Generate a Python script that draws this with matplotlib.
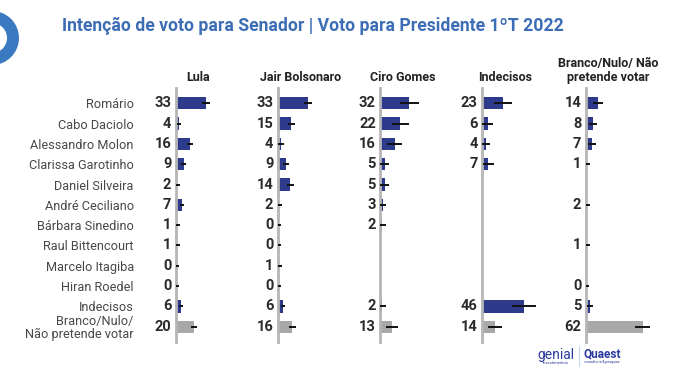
import numpy as np
import matplotlib
matplotlib.use("Agg")
import matplotlib.pyplot as plt
from matplotlib.patches import Circle

nan = np.nan

rows = ["Romário", "Cabo Daciolo", "Alessandro Molon", "Clarissa Garotinho",
        "Daniel Silveira", "André Ceciliano", "Bárbara Sinedino",
        "Raul Bittencourt", "Marcelo Itagiba", "Hiran Roedel", "Indecisos",
        "Branco/Nulo/\nNão pretende votar"]

columns = ["Lula", "Jair Bolsonaro", "Ciro Gomes", "Indecisos",
           "Branco/Nulo/ Não\npretende votar"]

lula = [33, 4, 16, 9, 2, 7, 1, 1, 0, 0, 6, 20]
bolsonaro = [33, 15, 4, 9, 14, 2, 0, 0, 1, 0, 6, 16]
ciro = [32, 22, 16, 5, 5, 3, 2, nan, nan, nan, 2, 13]
indecisos = [23, 6, 4, 7, nan, nan, nan, nan, nan, nan, 46, 14]
branco = [14, 8, 7, 1, nan, 2, nan, 1, nan, 0, 5, 62]

# margem de erro (meia largura)
err_lula = [4, 2.5, 3, 2.5, 3, 2.5, 3.5, 3.5, 4, 4, 2.5, 3.5]
err_bolsonaro = [4.5, 4, 3, 3, 4, 3, 4, 4, 3.5, 4, 2.5, 4]
err_ciro = [10, 9, 8, 5, 5, 4, 4, nan, nan, nan, 4, 7]
err_indecisos = [10, 6, 5, 6, nan, nan, nan, nan, nan, nan, 13, 8]
err_branco = [5.5, 4, 4, 4, nan, 3, nan, 3.5, nan, 4, 3.5, 8]

series = [lula, bolsonaro, ciro, indecisos, branco]
errors = [err_lula, err_bolsonaro, err_ciro, err_indecisos, err_branco]

W, H = 680, 382
fig = plt.figure(figsize=(6.8, 3.82), dpi=100)

reg = ["Roboto", "DejaVu Sans"]

blue = "#2e3a8c"
grey_bar = "#a8a8a8"
axis_x = [175.5, 277.5, 380, 482, 585.5]
top_px, bot_px = 88, 342
px_per_unit = 0.92
width_px = 100

# anel decorativo no canto superior esquerdo
ring = Circle((-8 / 100, (H - 38) / 100), 0.21,
              transform=fig.dpi_scale_trans,
              fill=False, edgecolor="#3a78c0", linewidth=8.6)
fig.patches.append(ring)

fig.text(62 / W, 1 - 26 / H,
         "Intenção de voto para Senador | Voto para Presidente 1ºT 2022",
         fontsize=12.7, fontweight="bold", color="#3d6db5", family=reg,
         va="center", ha="left")

y = np.arange(len(rows))
for k, (vals, errs) in enumerate(zip(series, errors)):
    ax = fig.add_axes([axis_x[k] / W, 1 - bot_px / H, width_px / W,
                       (bot_px - top_px) / H])
    vals = np.array(vals, dtype=float)
    errs = np.array(errs, dtype=float)
    colors = [blue] * (len(rows) - 1) + [grey_bar]
    ax.barh(y, np.nan_to_num(vals), height=0.6, color=colors, zorder=2)
    ax.errorbar(vals, y, xerr=errs, fmt="none", ecolor="#111111",
                elinewidth=1.4, capsize=0, zorder=3)
    ax.set_xlim(0, width_px / px_per_unit)
    ax.set_ylim(len(rows) - 1 + 0.75, -0.75)
    for s in ["top", "right", "bottom"]:
        ax.spines[s].set_visible(False)
    ax.spines["left"].set_color("#b5b5b5")
    ax.spines["left"].set_linewidth(2)
    ax.set_xticks([])
    ax.tick_params(axis="y", length=0)
    if k == 0:
        ax.set_yticks(y)
        ax.set_yticklabels(rows, fontsize=9.2, color="#484848", family=reg,
                           linespacing=1.0)
        ax.tick_params(axis="y", pad=30)
    else:
        ax.set_yticks([])
    for i, v in enumerate(vals):
        if np.isnan(v):
            continue
        ax.annotate(f"{v:.0f}", (0, i), xytext=(-3, 0),
                    textcoords="offset points", ha="right", va="center",
                    fontsize=10.5, fontweight="bold", color="#2a2a2a",
                    family=reg, annotation_clip=False)
    ax.text(23 / px_per_unit, 1 + 7 / (bot_px - top_px), columns[k],
            transform=ax.get_xaxis_transform(), ha="center", va="baseline",
            fontsize=9, fontweight="bold", color="#222222", family=reg,
            linespacing=1.1)

# logos
fig.text(556 / W, 1 - 355 / H, "genial", fontsize=10, color="#2b3a9e",
         family=reg, ha="center", va="center")
fig.text(556 / W, 1 - 363 / H, "investimentos", fontsize=3, color="#2b3a9e",
         family=reg, ha="center", va="center")
fig.add_artist(plt.Line2D([579 / W, 579 / W], [1 - 346 / H, 1 - 366 / H],
                          color="#c8d4e8", linewidth=0.8))
fig.text(602 / W, 1 - 354 / H, "Quaest", fontsize=8.5, fontweight="bold",
         color="#2b3a9e", family=reg, ha="center", va="center")
fig.text(602 / W, 1 - 362 / H, "consultoria & pesquisa", fontsize=2.5,
         color="#2b3a9e", family=reg, ha="center", va="center")

fig.savefig("out.png", dpi=100)
